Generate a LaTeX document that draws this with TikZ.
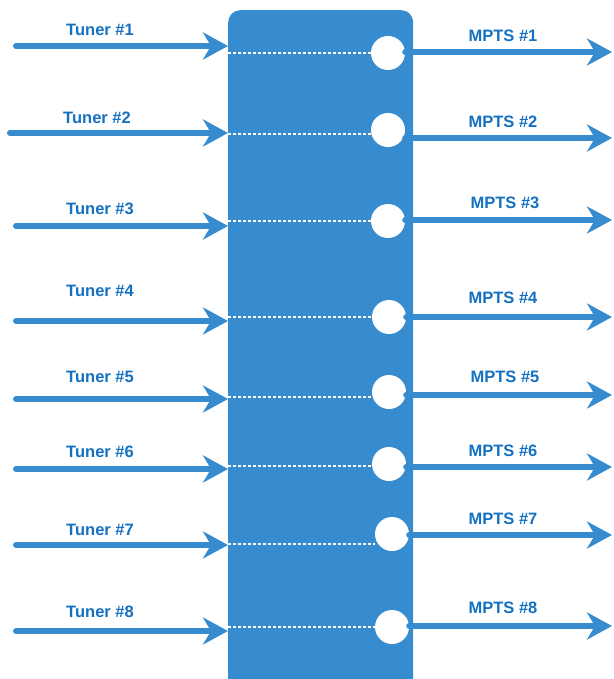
\documentclass[tikz,border=0pt]{standalone}
\usepackage{fontspec}
\setmainfont{Liberation Sans}
\usetikzlibrary{arrows.meta}
\definecolor{boxblue}{HTML}{368CCE}
\definecolor{textblue}{HTML}{1471C2}
\begin{document}
\begin{tikzpicture}[x=1pt,y=-1pt]
\tikzset{
  flow/.style={draw=boxblue, line width=6pt, line cap=round,
    -{Stealth[length=25pt,width=27pt,inset=8pt]}},
  port/.style={circle, fill=white, minimum size=34pt, inner sep=0pt},
  link/.style={draw=white, line width=1.4pt, dash pattern=on 3pt off 2pt},
  lbl/.style={text=textblue, font=\fontsize{16.5}{19}\selectfont\bfseries, inner sep=0pt}
}
\useasboundingbox (0,0) rectangle (613,679);
\begin{scope}
\clip (0,0) rectangle (613,679);
\node [fill=boxblue, rounded corners=12pt, minimum width=185pt, minimum height=720pt, inner sep=0pt, anchor=north west] (mux) at (228,10) {};
\end{scope}
% ports
\node [port] (p1) at (388,53) {};
\node [port] (p2) at (388,130) {};
\node [port] (p3) at (388,221) {};
\node [port] (p4) at (389,317) {};
\node [port] (p5) at (389,392) {};
\node [port] (p6) at (389,464) {};
\node [port] (p7) at (392,534) {};
\node [port] (p8) at (392,627) {};
% dashed links inside the box
\draw [link] (p1.west -| mux.west) -- (p1.west);
\draw [link] (0,134 -| mux.west) -- (p2.west |- 0,134);
\draw [link] (p3.west -| mux.west) -- (p3.west);
\draw [link] (p4.west -| mux.west) -- (p4.west);
\draw [link] (0,397 -| mux.west) -- (p5.west |- 0,397);
\draw [link] (0,466 -| mux.west) -- (p6.west |- 0,466);
\draw [link] (0,544 -| mux.west) -- (p7.west |- 0,544);
\draw [link] (p8.west -| mux.west) -- (p8.west);
% tuner inputs
\coordinate (t1) at (16,46);
\coordinate (t2) at (10,133);
\coordinate (t3) at (16,226);
\coordinate (t4) at (16,321);
\coordinate (t5) at (16,399);
\coordinate (t6) at (16,469);
\coordinate (t7) at (16,545);
\coordinate (t8) at (16,631);
\draw [flow] (t1) -- (t1 -| mux.west);
\draw [flow] (t2) -- (t2 -| mux.west);
\draw [flow] (t3) -- (t3 -| mux.west);
\draw [flow] (t4) -- (t4 -| mux.west);
\draw [flow] (t5) -- (t5 -| mux.west);
\draw [flow] (t6) -- (t6 -| mux.west);
\draw [flow] (t7) -- (t7 -| mux.west);
\draw [flow] (t8) -- (t8 -| mux.west);
\node [lbl] (lt1) at (100,30) {Tuner \#1};
\node [lbl] (lt2) at (97,118) {Tuner \#2};
\node [lbl] (lt3) at (100,209) {Tuner \#3};
\node [lbl] (lt4) at (100,291) {Tuner \#4};
\node [lbl] (lt5) at (100,377) {Tuner \#5};
\node [lbl] (lt6) at (100,452) {Tuner \#6};
\node [lbl] (lt7) at (100,530) {Tuner \#7};
\node [lbl] (lt8) at (100,612) {Tuner \#8};
% MPTS outputs
\coordinate (m1) at (612,52);
\coordinate (m2) at (612,138);
\coordinate (m3) at (612,220);
\coordinate (m4) at (612,317);
\coordinate (m5) at (612,395);
\coordinate (m6) at (612,467);
\coordinate (m7) at (612,535);
\coordinate (m8) at (612,626);
\draw [flow] (m1 -| p1.east) -- (m1);
\draw [flow] (m2 -| p2.east) -- (m2);
\draw [flow] (m3 -| p3.east) -- (m3);
\draw [flow] (m4 -| p4.east) -- (m4);
\draw [flow] (m5 -| p5.east) -- (m5);
\draw [flow] (m6 -| p6.east) -- (m6);
\draw [flow] (m7 -| p7.east) -- (m7);
\draw [flow] (m8 -| p8.east) -- (m8);
\node [lbl] (lm1) at (503,36) {MPTS \#1};
\node [lbl] (lm2) at (503,122) {MPTS \#2};
\node [lbl] (lm3) at (505,203) {MPTS \#3};
\node [lbl] (lm4) at (503,298) {MPTS \#4};
\node [lbl] (lm5) at (505,377) {MPTS \#5};
\node [lbl] (lm6) at (503,451) {MPTS \#6};
\node [lbl] (lm7) at (503,519) {MPTS \#7};
\node [lbl] (lm8) at (503,608) {MPTS \#8};
\end{tikzpicture}
\end{document}
